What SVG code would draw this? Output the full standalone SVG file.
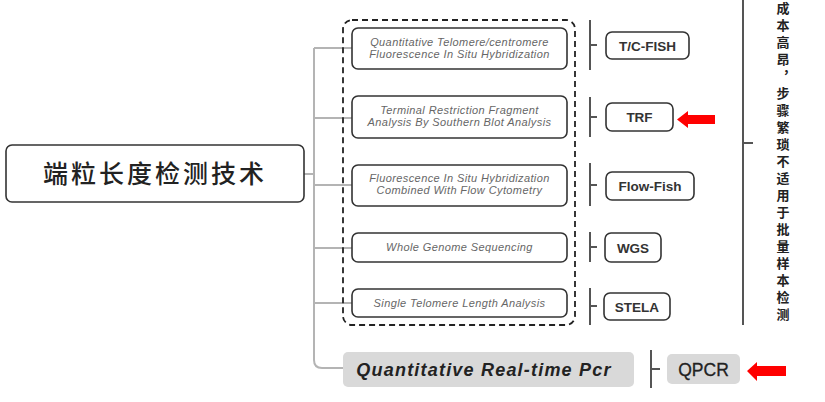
<svg xmlns="http://www.w3.org/2000/svg" width="825" height="402" viewBox="0 0 825 402">
<style>
.conn{fill:none;stroke:#b4b4b4;stroke-width:2}
.br{fill:none;stroke:#555;stroke-width:2}
.box{fill:#fff;stroke:#333;stroke-width:1.6}
.it{font-family:"Liberation Sans",Arial,sans-serif;font-style:italic;font-size:11px;letter-spacing:0.4px;fill:#666;text-anchor:middle}
.lab{font-family:"Liberation Sans",Arial,sans-serif;font-weight:bold;font-size:13.5px;fill:#333;text-anchor:middle}
.cjk{font-family:"Noto Sans CJK SC",sans-serif;font-weight:bold;font-size:13px;fill:#222;writing-mode:vertical-rl;letter-spacing:4px}
.arrow{fill:#f00}
</style>
<rect width="825" height="402" fill="#fff"/>
<g id="connectors">
<path class="conn" d="M304 174 H314 M314 48 V360 Q314 368 322 368 H343"/>
<path class="conn" d="M314 48 H352 M314 118 H352 M314 185 H352 M314 248 H352 M314 303 H352"/>
<path class="br" d="M590 20 V70 M590 45 H597 M590 97 V137 M590 117 H597 M590 163 V206 M590 185 H597 M590 232 V262 M590 247 H597 M590 288 V325 M590 306 H597 M651 350 V388 M651 369 H660"/>
<path class="br" d="M743 0 V325 M743 143 H753"/>
</g>
<g id="main">
<rect class="box" x="6" y="145" width="298" height="57" rx="6"/>
<text x="155" y="183" font-family="'Noto Sans CJK SC',sans-serif" font-size="25" font-weight="500" fill="#222" text-anchor="middle" letter-spacing="3">端粒长度检测技术</text>
</g>
<g id="group">
<rect x="343" y="20" width="232" height="305" rx="9" fill="none" stroke="#222" stroke-width="1.8" stroke-dasharray="6,4"/>
</g>
<g id="qftfish">
<rect class="box" x="352" y="28" width="215" height="41" rx="6"/>
<text class="it" x="459.5" y="46">Quantitative Telomere/centromere</text>
<text class="it" x="459.5" y="58">Fluorescence In Situ Hybridization</text>
</g>
<g id="trfdesc">
<rect class="box" x="352" y="96" width="215" height="42" rx="6"/>
<text class="it" x="459.5" y="114">Terminal Restriction Fragment</text>
<text class="it" x="459.5" y="126">Analysis By Southern Blot Analysis</text>
</g>
<g id="flowdesc">
<rect class="box" x="352" y="165" width="215" height="41" rx="6"/>
<text class="it" x="459.5" y="182">Fluorescence In Situ Hybridization</text>
<text class="it" x="459.5" y="194">Combined With Flow Cytometry</text>
</g>
<g id="wgsdesc">
<rect class="box" x="352" y="233" width="215" height="29" rx="6"/>
<text class="it" x="459.5" y="251">Whole Genome Sequencing</text>
</g>
<g id="steladesc">
<rect class="box" x="352" y="289" width="215" height="28" rx="6"/>
<text class="it" x="459.5" y="306.5">Single Telomere Length Analysis</text>
</g>
<g id="qpcrdesc">
<rect x="343" y="352" width="291" height="35" rx="5" fill="#d9d9d9"/>
<text x="484" y="376" font-family="'Liberation Sans',Arial,sans-serif" font-weight="bold" font-style="italic" font-size="18" letter-spacing="1.2" fill="#222" text-anchor="middle">Quantitative Real-time Pcr</text>
</g>
<g id="tcfish">
<rect class="box" x="606" y="32" width="83" height="27" rx="6"/>
<text class="lab" x="647.5" y="50.5">T/C-FISH</text>
</g>
<g id="trf">
<rect class="box" x="606" y="103" width="67" height="28" rx="6"/>
<text class="lab" x="639.5" y="122">TRF</text>
</g>
<g id="flowfish">
<rect class="box" x="606" y="172" width="88" height="28" rx="6"/>
<text class="lab" x="650" y="191">Flow-Fish</text>
</g>
<g id="wgs">
<rect class="box" x="605" y="233" width="56" height="29" rx="6"/>
<text class="lab" x="633" y="252.5">WGS</text>
</g>
<g id="stela">
<rect class="box" x="604" y="293" width="66" height="27" rx="6"/>
<text class="lab" x="637" y="311.5">STELA</text>
</g>
<g id="qpcr">
<rect x="667" y="354" width="73" height="30" rx="5" fill="#d9d9d9"/>
<text x="703.5" y="375.5" font-family="'Liberation Sans',Arial,sans-serif" font-size="17.5" fill="#222" stroke="#222" stroke-width="0.3" text-anchor="middle">QPCR</text>
</g>
<g id="arrows">
<polygon class="arrow" points="677,119.5 688,111 688,115 715,115 715,124 688,124 688,128"/>
<polygon class="arrow" points="747,371 757,362 757,366 786,366 786,376 757,376 757,381"/>
</g>
<g id="note">
<text class="cjk" x="783" y="2">成本高昂，步骤繁琐不适用于批量样本检测</text>
</g>
</svg>
